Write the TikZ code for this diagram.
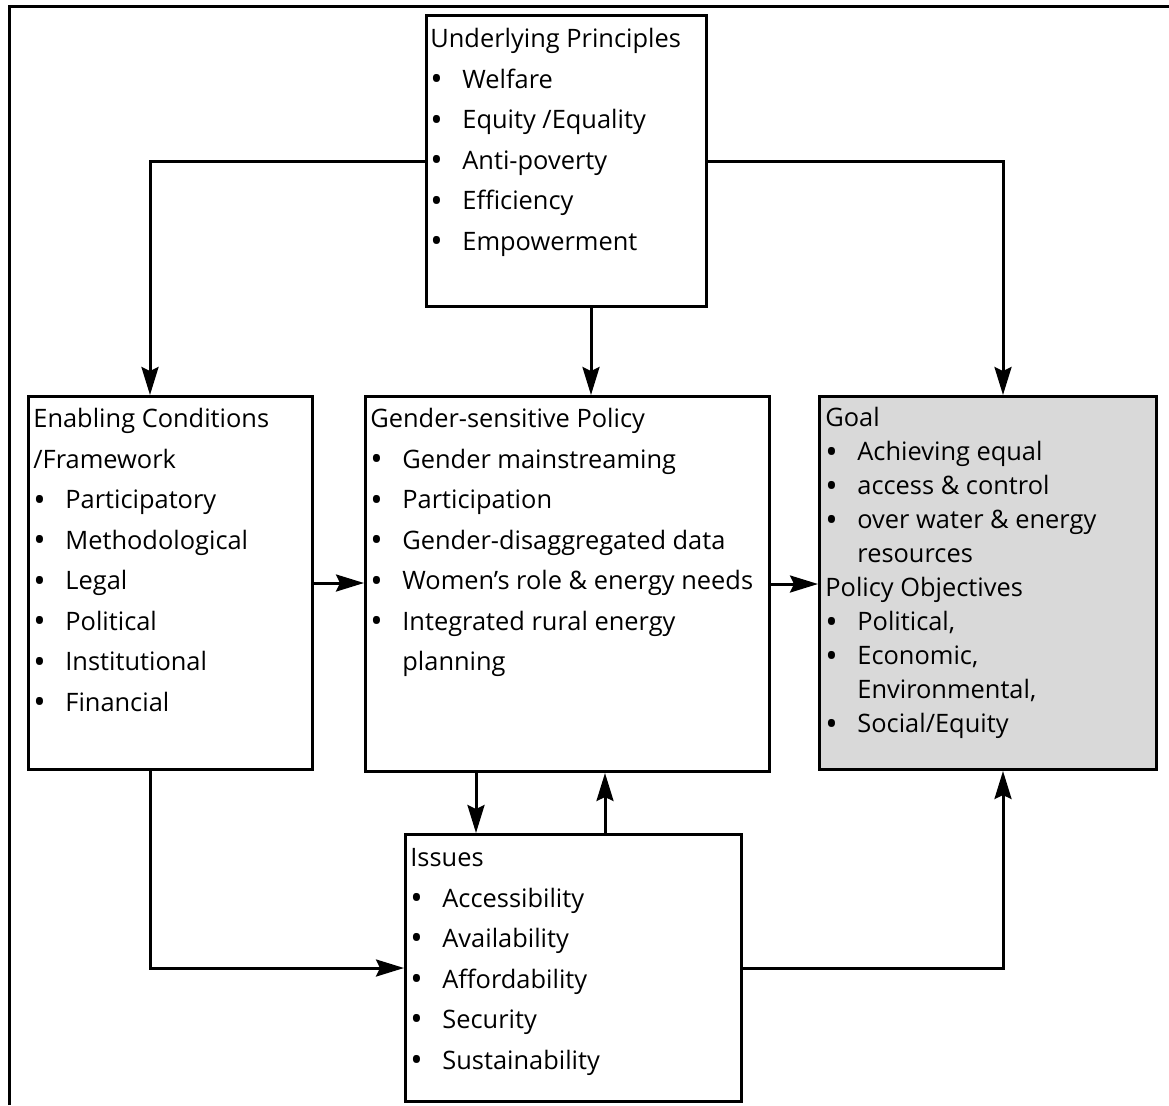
\documentclass[tikz,border=0pt]{standalone}
\usepackage{fontspec}
\usepackage{graphicx}
\setmainfont{Open Sans}
\usetikzlibrary{arrows.meta}

\definecolor{goalgray}{gray}{0.85}

\tikzset{
  box/.style={draw, line width=1.5pt, anchor=north west, inner sep=0pt},
  boxtext/.style={anchor=north west, align=left, inner sep=0pt,
    font=\fontsize{12.7}{20.25}\selectfont},
  link/.style={line width=1.5pt, -{Stealth[length=14pt,width=8.5pt,inset=2pt]}},
}
\newcommand{\bigbullet}{\raisebox{-1.2pt}{\scalebox{1.3}{\textbullet}}}
\newcommand{\bitem}[1]{\makebox[16pt][l]{\bigbullet}#1}
\newcommand{\bcont}[1]{\hspace*{16pt}#1}

\begin{document}
\begin{tikzpicture}[x=0.5pt,y=-0.5pt]

    % --- Page size ---
    \useasboundingbox (0,0) rectangle (1169,1105);

    % --- Outer frame (runs off the page at right and bottom) ---
    \draw[line width=1.5pt] (9,1105) -- (9,6) -- (1169,6);

    % --- Boxes ---
    \node[box, minimum width=140pt, minimum height=145.5pt] (prin) at (425,14) {};
    \node[box, minimum width=142pt, minimum height=186.5pt] (enab) at (27,395) {};
    \node[box, minimum width=202pt, minimum height=187.5pt] (gend) at (364,395) {};
    \node[box, fill=goalgray, minimum width=168.5pt, minimum height=186.5pt] (goal) at (818,395) {};
    \node[box, minimum width=168pt, minimum height=133.5pt] (issu) at (404,833) {};

    % --- Box texts ---
    \node[boxtext] (printext) at (430,28) {Underlying Principles\\
      \bitem{Welfare}\\
      \bitem{Equity /Equality}\\
      \bitem{Anti-poverty}\\
      \bitem{Efficiency}\\
      \bitem{Empowerment}};

    \node[boxtext] (enabtext) at (33,408) {Enabling Conditions\\
      /Framework\\
      \bitem{Participatory}\\
      \bitem{Methodological}\\
      \bitem{Legal}\\
      \bitem{Political}\\
      \bitem{Institutional}\\
      \bitem{Financial}};

    \node[boxtext] (gendtext) at (370,408) {Gender-sensitive Policy\\
      \bitem{Gender mainstreaming}\\
      \bitem{Participation}\\
      \bitem{Gender-disaggregated data}\\
      \bitem{Women’s role \& energy needs}\\
      \bitem{Integrated rural energy}\\
      \bcont{planning}};

    \node[boxtext, font=\fontsize{12.7}{17}\selectfont] (goaltext) at (825,407) {Goal\\
      \bitem{Achieving equal}\\
      \bitem{access \& control}\\
      \bitem{over water \& energy}\\
      \bcont{resources}\\
      Policy Objectives\\
      \bitem{Political,}\\
      \bitem{Economic,}\\
      \bcont{Environmental,}\\
      \bitem{Social/Equity}};

    \node[boxtext] (issutext) at (410,848) {Issues\\
      \bitem{Accessibility}\\
      \bitem{Availability}\\
      \bitem{Affordability}\\
      \bitem{Security}\\
      \bitem{Sustainability}};

    % --- Connectors ---
    \draw[link] (prin.west) -| ([xshift=61.5pt]enab.north west);
    \draw[link] (prin.east) -| ([xshift=92.5pt]goal.north west);
    \draw[link] ([xshift=83pt]prin.south west) -- ([xshift=83pt]prin.south west |- gend.north);
    \draw[link] (enab.east) -- (enab.east -| gend.west);
    \draw[link] (gend.east) -- (gend.east -| goal.west);
    \draw[link] ([xshift=56pt]gend.south west) -- ([xshift=56pt]gend.south west |- issu.north);
    \draw[link] ([xshift=100.5pt]issu.north west) -- ([xshift=100.5pt]issu.north west |- gend.south);
    \draw[link] ([xshift=61.5pt]enab.south west) |- (issu.west);
    \draw[link] (issu.east) -| ([xshift=92.5pt]goal.south west);

\end{tikzpicture}
\end{document}
